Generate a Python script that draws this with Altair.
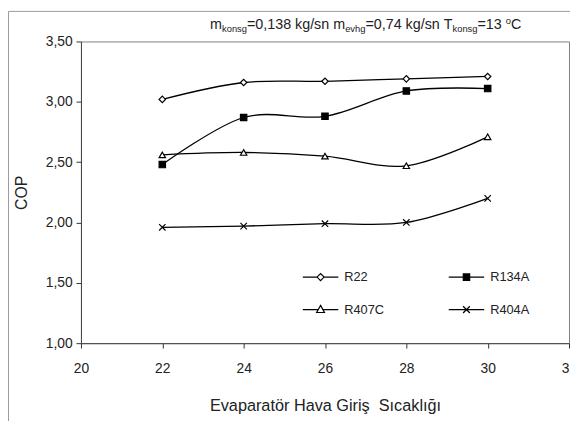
import altair as alt
import pandas as pd

# ---- data ----
temps = [22, 24, 26, 28, 30]
series_names = ["R22", "R134A", "R407C", "R404A"]
r22 = [3.02, 3.16, 3.17, 3.19, 3.21]
r134a = [2.48, 2.87, 2.88, 3.09, 3.11]
r407c = [2.56, 2.58, 2.55, 2.47, 2.71]
r404a = [1.96, 1.97, 1.99, 2.00, 2.20]
x_ticks = [20, 22, 24, 26, 28, 30, 32]
y_ticks = [1.0, 1.5, 2.0, 2.5, 3.0, 3.5]

values = {"R22": r22, "R134A": r134a, "R407C": r407c, "R404A": r404a}
rows = []
for s in series_names:
    for t, v in zip(temps, values[s]):
        rows.append({"temp": t, "cop": v, "series": s})
df = pd.DataFrame(rows)

FONT = "Liberation Sans"
W, H = 495, 306

# point shapes
X_PATH = "M-1,-1L1,1M-1,1L1,-1"
point_shapes = ["diamond", "square", "triangle-up", X_PATH]
point_fills = ["white", "black", "white", "transparent"]
strokes = ["black", "black", "black", "black"]

# legend symbols: line + marker in one path
LEG_R22 = "M-1,0L-0.2,0M-0.2,0L0,-0.2L0.2,0L0,0.2ZM0.2,0L1,0"
LEG_R134A = "M-1,0L-0.18,0M-0.18,-0.18L0.18,-0.18L0.18,0.18L-0.18,0.18ZM0.18,0L1,0"
LEG_R407C = "M-1,0L-0.13,0M0,-0.24L0.22,0.16L-0.22,0.16ZM0.13,0L1,0"
LEG_R404A = "M-1,0L1,0M-0.19,-0.19L0.19,0.19M-0.19,0.19L0.19,-0.19"
legend_shapes = [LEG_R22, LEG_R134A, LEG_R407C, LEG_R404A]

xscale = alt.Scale(domain=[20, 32], nice=False, zero=False)
yscale = alt.Scale(domain=[1.0, 3.5], nice=False, zero=False)

x_enc = alt.X("temp:Q", scale=xscale, axis=alt.Axis(
    values=x_ticks, title="Evaparatör Hava Giriş\u00a0 Sıcaklığı", grid=False,
    labelFont=FONT, labelFontSize=14, labelColor="#222", labelPadding=14,
    tickSize=5, tickColor="#333", domainColor="#444",
    titleFont=FONT, titleFontSize=16.5, titleFontWeight="normal", titleColor="#222",
    titlePadding=22, labelFlush=False))
y_enc = alt.Y("cop:Q", scale=yscale, axis=alt.Axis(
    values=y_ticks, title="COP", grid=False,
    labelExpr="replace(format(datum.value, '.2f'), '.', ',')",
    labelFont=FONT, labelFontSize=14, labelColor="#222", labelPadding=4,
    tickSize=5, tickColor="#333", domainColor="#444",
    titleFont=FONT, titleFontSize=16, titleFontWeight="normal", titleColor="#222",
    titlePadding=16))

base = alt.Chart(df)

lines = base.mark_line(interpolate="cardinal", color="black", strokeWidth=1.3).encode(
    x=x_enc, y=y_enc, detail="series:N")

points = base.mark_point(stroke="black", strokeWidth=1.2, opacity=1, size=42).encode(
    x="temp:Q", y="cop:Q",
    shape=alt.Shape("series:N", scale=alt.Scale(domain=series_names, range=point_shapes), legend=None),
    fill=alt.Fill("series:N", scale=alt.Scale(domain=series_names, range=point_fills), legend=None),
)

legend_opts = dict(
    title=None, orient="none", legendX=224, legendY=220, columns=2,
    direction="horizontal", symbolSize=1296, symbolStrokeWidth=1.2,
    symbolStrokeColor="black", symbolOpacity=1,
    labelFont=FONT, labelFontSize=13, labelColor="#222",
    labelOffset=5, columnPadding=62, rowPadding=7)

legend_layer = base.transform_filter("false").mark_point(
    strokeWidth=1.2, opacity=1).encode(
    x="temp:Q", y="cop:Q",
    shape=alt.Shape("series:N", scale=alt.Scale(domain=series_names, range=legend_shapes),
                    legend=alt.Legend(**legend_opts)),
    fill=alt.Fill("series:N", scale=alt.Scale(domain=series_names, range=point_fills),
                  legend=alt.Legend(**legend_opts)),
    stroke=alt.Stroke("series:N", scale=alt.Scale(domain=series_names, range=strokes),
                      legend=alt.Legend(**legend_opts)),
)

# ---- top title with subscripts ----
CW = {"m": 833, "k": 500, "o": 556, "n": 556, "s": 500, "g": 556, "=": 584, "0": 556,
      ",": 278, "1": 556, "3": 556, "8": 556, " ": 278, "/": 278, "e": 556, "v": 500,
      "h": 556, "7": 556, "4": 556, "T": 611, "C": 722}
F, f = 14.5, 9.5
pieces = [("m", F, 0), ("konsg", f, 3), ("=0,138 kg/sn m", F, 0), ("evhg", f, 3),
          ("=0,74 kg/sn T", F, 0), ("konsg", f, 3), ("=13 ", F, 0), ("o", f, -5), ("C", F, 0)]
x_cursor = 213 - 82
title_layers = []
for txt, sz, dy in pieces:
    w = sum(CW[c] for c in txt) / 1000 * sz
    title_layers.append(
        alt.Chart(alt.Data(values=[{}])).mark_text(
            font=FONT, fontSize=sz, align="left", baseline="alphabetic", color="#222",
            text=txt.replace(" ", "\u00a0")).encode(
            x=alt.value(x_cursor), y=alt.value(-13 + dy)))
    x_cursor += w

# outer frame (left and top edges of the figure box)
frame_left = alt.Chart(alt.Data(values=[{}])).mark_rule(color="#999", strokeWidth=1).encode(
    x=alt.value(-73.5), y=alt.value(-30.5), y2=alt.value(H + 80))
frame_top = alt.Chart(alt.Data(values=[{}])).mark_rule(color="#999", strokeWidth=1).encode(
    x=alt.value(-73.5), x2=alt.value(W + 10), y=alt.value(-30.5))

chart = alt.layer(lines, points, legend_layer, *title_layers, frame_left, frame_top).resolve_scale(
    shape="independent", fill="independent", stroke="independent"
).properties(
    width=W, height=H,
    autosize=alt.AutoSizeParams(type="none"),
    padding={"left": 74, "top": 31, "right": 1, "bottom": 76},
    background="white",
).configure_view(stroke="#808080", strokeWidth=1)

chart.save("out.html", embed_options={"renderer": "svg", "actions": False})
